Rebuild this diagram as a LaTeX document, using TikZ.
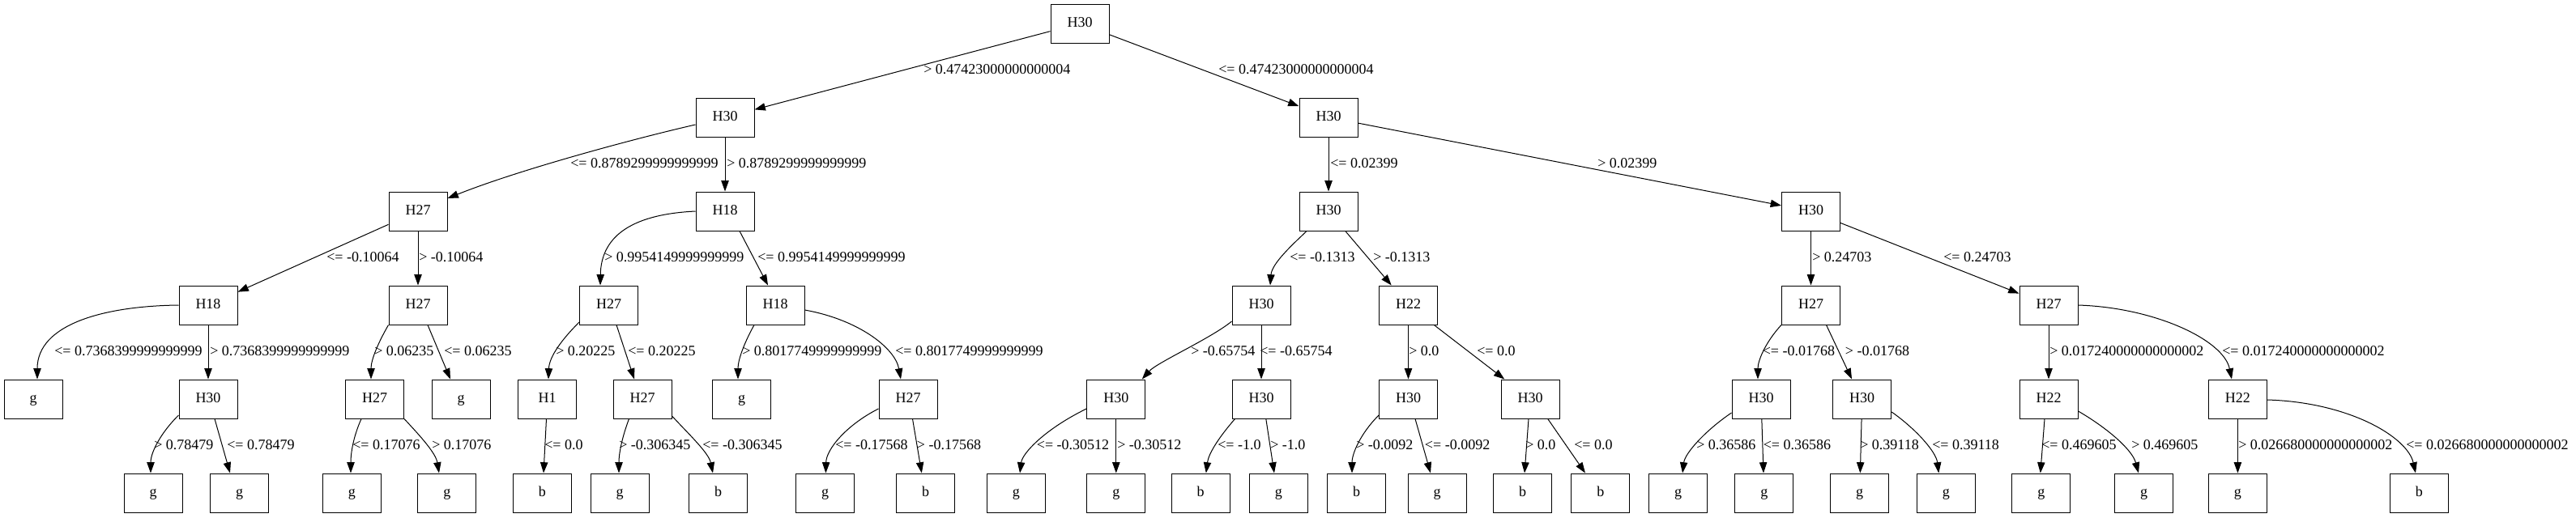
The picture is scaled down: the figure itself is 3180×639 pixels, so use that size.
\documentclass[tikz,border=0pt]{standalone}
\usepackage{fontspec}
\setmainfont{Liberation Serif}
\usetikzlibrary{arrows.meta,calc}
\begin{document}
\begin{tikzpicture}[x=0.75pt,y=-0.75pt,
  box/.style={draw,line width=0.75pt,minimum width=54pt,minimum height=36pt,inner sep=0pt,
    font=\fontsize{13.5}{16}\selectfont,text height=0.66em,text depth=0pt},
  lbl/.style={anchor=west,inner sep=0pt,font=\fontsize{13.5}{16}\selectfont,text height=0.66em,text depth=0pt},
  edge/.style={line width=0.75pt,-{Triangle[length=10pt,width=7pt]}}]
\useasboundingbox (0,0) rectangle (3180,639);
% level 0-2
\node[box] (L0a) at (1333,29) {H30};
\node[box] (L1a) at (895,145) {H30};
\node[box] (L1b) at (1640,145) {H30};
\node[box] (L2a) at (516,261) {H27};
\node[box] (L2b) at (895,261) {H18};
\node[box] (L2c) at (1640,261) {H30};
\node[box] (L2d) at (2235.5,261) {H30};
% level 3
\node[box] (L3a) at (257,377) {H18};
\node[box] (L3b) at (516,377) {H27};
\node[box] (L3c) at (751.5,377) {H27};
\node[box] (L3d) at (957,377) {H18};
\node[box] (L3e) at (1557,377) {H30};
\node[box] (L3f) at (1738.5,377) {H22};
\node[box] (L3g) at (2235.5,377) {H27};
\node[box] (L3h) at (2529,377) {H27};
% level 4
\node[box] (L4a) at (41,493) {g};
\node[box] (L4b) at (257,493) {H30};
\node[box] (L4c) at (462.5,493) {H27};
\node[box] (L4d) at (569,493) {g};
\node[box] (L4e) at (675.5,493) {H1};
\node[box] (L4f) at (793,493) {H27};
\node[box] (L4g) at (915.6,493) {g};
\node[box] (L4h) at (1121,493) {H27};
\node[box] (L4i) at (1377.8,493) {H30};
\node[box] (L4j) at (1557,493) {H30};
\node[box] (L4k) at (1738.5,493) {H30};
\node[box] (L4l) at (1889,493) {H30};
\node[box] (L4m) at (2174,493) {H30};
\node[box] (L4n) at (2298.7,493) {H30};
\node[box] (L4o) at (2529,493) {H22};
\node[box] (L4p) at (2762.4,493) {H22};
% level 5
\node[box] (L5a) at (189,609) {g};
\node[box] (L5b) at (295.7,609) {g};
\node[box] (L5c) at (434.4,609) {g};
\node[box] (L5d) at (551.8,609) {g};
\node[box] (L5e) at (669.4,609) {b};
\node[box] (L5f) at (765,609) {g};
\node[box] (L5g) at (886.5,609) {b};
\node[box] (L5h) at (1018.6,609) {g};
\node[box] (L5i) at (1142.6,609) {b};
\node[box] (L5j) at (1254.3,609) {g};
\node[box] (L5k) at (1377.8,609) {g};
\node[box] (L5l) at (1482,609) {b};
\node[box] (L5m) at (1578.3,609) {g};
\node[box] (L5n) at (1674.5,609) {b};
\node[box] (L5o) at (1774.2,609) {g};
\node[box] (L5p) at (1879.6,609) {b};
\node[box] (L5q) at (1975.8,609) {b};
\node[box] (L5r) at (2071.7,609) {g};
\node[box] (L5s) at (2177.8,609) {g};
\node[box] (L5t) at (2295.7,609) {g};
\node[box] (L5u) at (2402.3,609) {g};
\node[box] (L5v) at (2519.8,609) {g};
\node[box] (L5w) at (2646.6,609) {g};
\node[box] (L5x) at (2762.4,609) {g};
\node[box] (L5y) at (2986.4,609) {b};
% edges level 0-2
\draw[edge] (L0a) -- (L1a);
\draw[edge] (L0a) -- (L1b);
\draw[edge] ($(L1a.west)+(0,9)$) .. controls (780,172) and (640,210) .. ($(L2a.east)+(0,-16)$);
\draw[edge] (L1a) -- (L2b);
\draw[edge] (L1b) -- (L2c);
\draw[edge] (L1b) -- (L2d);
% edges level 2-3
\draw[edge] (L2a) -- (L3a);
\draw[edge] (L2a) -- (L3b);
\draw[edge] (L2b.west) .. controls (775,265) and (742,295) .. ($(L3c.north)+(-10.5,0)$);
\draw[edge] ($(L2b.south)+(18,0)$) -- ($(L3d.north)+(-9,0)$);
\draw[edge] ($(L2c.south)+(-27,0)$) .. controls (1598,300) and (1570,325) .. ($(L3e.north)+(11,0)$);
\draw[edge] (L2c) -- (L3f);
\draw[edge] (L2d) -- (L3g);
\draw[edge] (L2d) -- (L3h);
% edges level 3-4
\draw[edge] (L3a.west) .. controls (130,378) and (46,400) .. ($(L4a.north)+(5,0)$);
\draw[edge] (L3a) -- (L4b);
\draw[edge] (L3b.south west) .. controls (466,425) and (458,445) .. ($(L4c.north)+(-4.5,0)$);
\draw[edge] ($(L3b.south)+(12,0)$) -- ($(L4d.north)+(-13,0)$);
\draw[edge] ($(L3c.west)+(0,21)$) .. controls (695,418) and (678,440) .. ($(L4e.north)+(1.5,0)$);
\draw[edge] ($(L3c.south)+(9.5,0)$) -- ($(L4f.north)+(-10,0)$);
\draw[edge] ($(L3d.south)+(-26,0)$) .. controls (918,425) and (911,445) .. ($(L4g.north)+(-4.6,0)$);
\draw[edge] ($(L3d.east)+(0,6)$) .. controls (1060,395) and (1105,430) .. ($(L4h.north)+(-9,0)$);
\draw[edge] ($(L3e.west)+(0,20)$) .. controls (1495,418) and (1428,448) .. ($(L4i.north)+(32,0)$);
\draw[edge] (L3e) -- (L4j);
\draw[edge] (L3f) -- (L4k);
\draw[edge] (L3f) -- (L4l);
\draw[edge] (L3g.south west) .. controls (2180,422) and (2170,445) .. ($(L4m.north)+(-4,0)$);
\draw[edge] ($(L3g.south)+(19,0)$) -- ($(L4n.north)+(-12.7,0)$);
\draw[edge] (L3h) -- (L4o);
\draw[edge] (L3h.east) .. controls (2660,380) and (2745,420) .. ($(L4p.north)+(-7.4,0)$);
% edges level 4-5
\draw[edge] ($(L4b.west)+(0,20)$) .. controls (200,533) and (186,558) .. ($(L5a.north)+(-3,0)$);
\draw[edge] ($(L4b.south)+(8,0)$) -- ($(L5b.north)+(-11.7,0)$);
\draw[edge] ($(L4c.south)+(-16.5,0)$) .. controls (436,540) and (433,560) .. ($(L5c.north)+(-1.4,0)$);
\draw[edge] (L4c.south east) .. controls (520,540) and (538,560) .. ($(L5d.north)+(-9.8,0)$);
\draw[edge] ($(L4e.south)+(-1,0)$) -- ($(L5e.north)+(1.6,0)$);
\draw[edge] ($(L4f.south)+(-16.5,0)$) .. controls (768,540) and (764,560) .. ($(L5f.north)+(-1,0)$);
\draw[edge] ($(L4f.east)+(0,21)$) .. controls (852,538) and (875,560) .. ($(L5g.north)+(-6.5,0)$);
\draw[edge] ($(L4h.west)+(0,12)$) .. controls (1045,525) and (1020,555) .. ($(L5h.north)+(0.8,0)$);
\draw[edge] ($(L4h.south)+(5.5,0)$) -- ($(L5i.north)+(-4.8,0)$);
\draw[edge] ($(L4i.west)+(0,12)$) .. controls (1290,530) and (1262,560) .. ($(L5j.north)+(4.7,0)$);
\draw[edge] (L4i) -- (L5k);
\draw[edge] ($(L4j.south)+(-32.5,0)$) .. controls (1505,540) and (1492,560) .. ($(L5l.north)+(6.8,0)$);
\draw[edge] ($(L4j.south)+(5.8,0)$) -- ($(L5m.north)+(-5.3,0)$);
\draw[edge] ($(L4k.west)+(0,20)$) .. controls (1680,535) and (1669,560) .. ($(L5n.north)+(-5.5,0)$);
\draw[edge] ($(L4k.south)+(8.5,0)$) -- ($(L5o.north)+(-8.2,0)$);
\draw[edge] ($(L4l.south)+(-2,0)$) -- ($(L5p.north)+(2.4,0)$);
\draw[edge] ($(L4l.south)+(21.7,0)$) -- ($(L5q.north)+(-18.8,0)$);
\draw[edge] ($(L4m.west)+(0,17)$) .. controls (2105,532) and (2080,560) .. ($(L5r.north)+(5.3,0)$);
\draw[edge] (L4m) -- (L5s);
\draw[edge] (L4n) -- (L5t);
\draw[edge] ($(L4n.east)+(0,16)$) .. controls (2365,530) and (2390,558) .. ($(L5u.north)+(-9,0)$);
\draw[edge] ($(L4o.south)+(-5,0)$) -- ($(L5v.north)+(-1,0)$);
\draw[edge] ($(L4o.east)+(0,15)$) .. controls (2600,528) and (2632,555) .. ($(L5w.north)+(-6.6,0)$);
\draw[edge] (L4p) -- (L5x);
\draw[edge] ($(L4p.east)+(0,1)$) .. controls (2900,497) and (2972,540) .. ($(L5y.north)+(-4.4,0)$);
% labels
\node[lbl] (t01) at (1140,87) {> 0.47423000000000004};
\node[lbl] (t02) at (1504,87) {<= 0.47423000000000004};
\node[lbl] (t03) at (704,203) {<= 0.8789299999999999};
\node[lbl] (t04) at (897,203) {> 0.8789299999999999};
\node[lbl] (t05) at (1642,203) {<= 0.02399};
\node[lbl] (t06) at (1972,203) {> 0.02399};
\node[lbl] (t07) at (403,319) {<= -0.10064};
\node[lbl] (t08) at (517,319) {> -0.10064};
\node[lbl] (t09) at (746,319) {> 0.9954149999999999};
\node[lbl] (t10) at (935,319) {<= 0.9954149999999999};
\node[lbl] (t11) at (1592,319) {<= -0.1313};
\node[lbl] (t12) at (1695,319) {> -0.1313};
\node[lbl] (t13) at (2237,319) {> 0.24703};
\node[lbl] (t14) at (2399,319) {<= 0.24703};
\node[lbl] (t15) at (67,435) {<= 0.7368399999999999};
\node[lbl] (t16) at (259,435) {> 0.7368399999999999};
\node[lbl] (t17) at (462,435) {> 0.06235};
\node[lbl] (t18) at (548,435) {<= 0.06235};
\node[lbl] (t19) at (686,435) {> 0.20225};
\node[lbl] (t20) at (775,435) {<= 0.20225};
\node[lbl] (t21) at (916,435) {> 0.8017749999999999};
\node[lbl] (t22) at (1105,435) {<= 0.8017749999999999};
\node[lbl] (t23) at (1470,435) {> -0.65754};
\node[lbl] (t24) at (1555,435) {<= -0.65754};
\node[lbl] (t25) at (1739,435) {> 0.0};
\node[lbl] (t26) at (1823,435) {<= 0.0};
\node[lbl] (t27) at (2175.5,435) {<= -0.01768};
\node[lbl] (t28) at (2277.6,435) {> -0.01768};
\node[lbl] (t29) at (2530,435) {> 0.017240000000000002};
\node[lbl] (t30) at (2743,435) {<= 0.017240000000000002};
\node[lbl] (t31) at (190,551) {> 0.78479};
\node[lbl] (t32) at (280,551) {<= 0.78479};
\node[lbl] (t33) at (435,551) {<= 0.17076};
\node[lbl] (t34) at (533,551) {> 0.17076};
\node[lbl] (t35) at (672,551) {<= 0.0};
\node[lbl] (t36) at (764,551) {> -0.306345};
\node[lbl] (t37) at (867,551) {<= -0.306345};
\node[lbl] (t38) at (1031,551) {<= -0.17568};
\node[lbl] (t39) at (1131.6,551) {> -0.17568};
\node[lbl] (t40) at (1279.6,551) {<= -0.30512};
\node[lbl] (t41) at (1379,551) {> -0.30512};
\node[lbl] (t42) at (1503,551) {<= -1.0};
\node[lbl] (t43) at (1568,551) {> -1.0};
\node[lbl] (t44) at (1674,551) {> -0.0092};
\node[lbl] (t45) at (1758.7,551) {<= -0.0092};
\node[lbl] (t46) at (1883,551) {> 0.0};
\node[lbl] (t47) at (1943,551) {<= 0.0};
\node[lbl] (t48) at (2094,551) {> 0.36586};
\node[lbl] (t49) at (2176.5,551) {<= 0.36586};
\node[lbl] (t50) at (2296,551) {> 0.39118};
\node[lbl] (t51) at (2385,551) {<= 0.39118};
\node[lbl] (t52) at (2520,551) {<= 0.469605};
\node[lbl] (t53) at (2631,551) {> 0.469605};
\node[lbl] (t54) at (2763,551) {> 0.026680000000000002};
\node[lbl] (t55) at (2970,551) {<= 0.026680000000000002};
\end{tikzpicture}
\end{document}
